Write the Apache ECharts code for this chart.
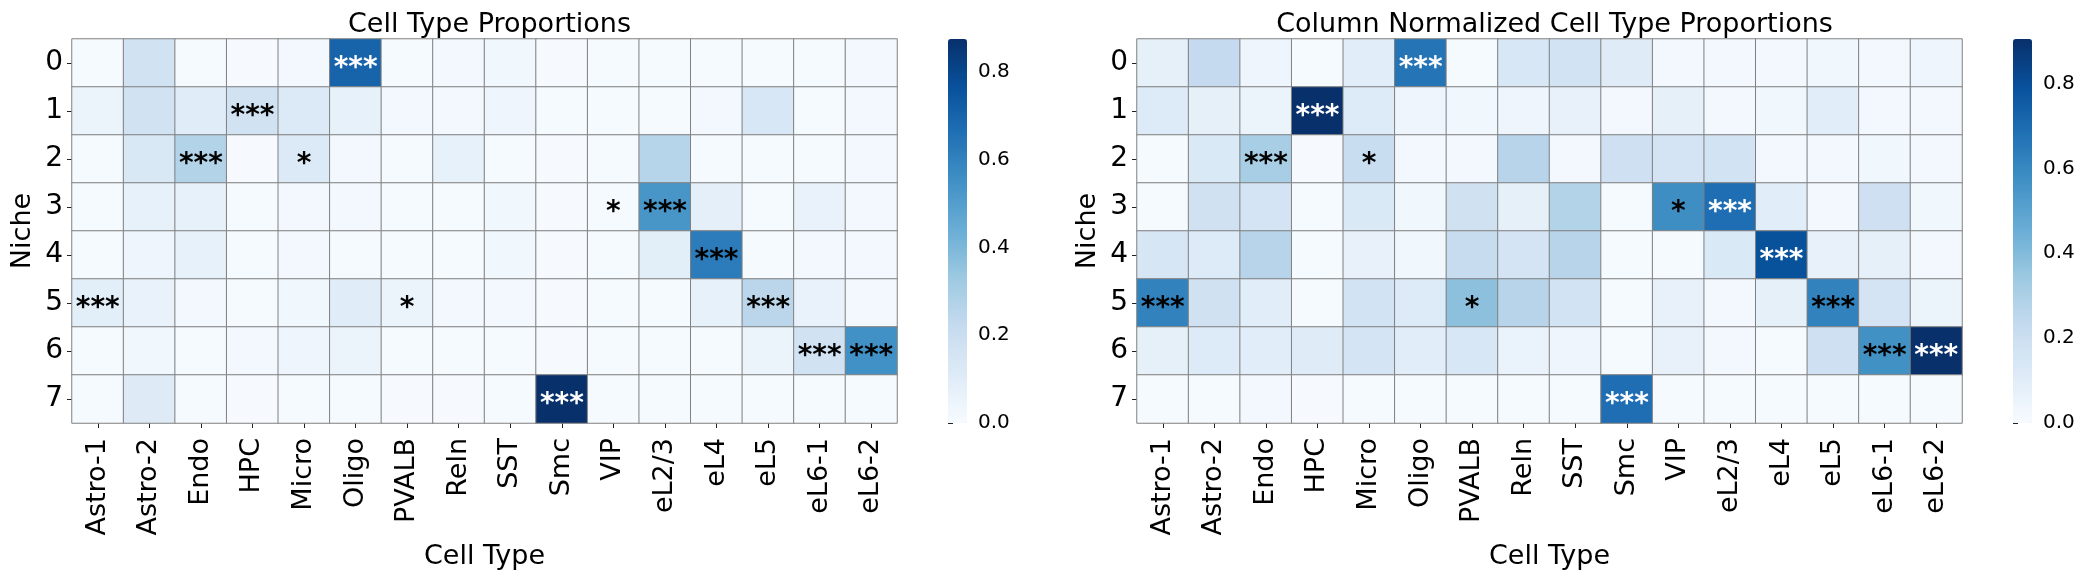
<!DOCTYPE html>
<html>
<head>
<meta charset="utf-8">
<script src="https://cdn.jsdelivr.net/npm/echarts@6/dist/echarts.min.js"></script>
<style>
  html, body { margin: 0; padding: 0; background: #fff; }
  #chart { width: 2087px; height: 577px; }
</style>
</head>
<body>
<div id="chart"></div>
<script>
const cellTypes = ['Astro-1', 'Astro-2', 'Endo', 'HPC', 'Micro', 'Oligo', 'PVALB', 'Reln',
  'SST', 'Smc', 'VIP', 'eL2/3', 'eL4', 'eL5', 'eL6-1', 'eL6-2']
const niches = ['0', '1', '2', '3', '4', '5', '6', '7']

// raw proportions, one row per niche
const propValues = [
  [0.01, 0.17, 0.01, 0.005, 0.02, 0.70, 0.01, 0.02, 0.03, 0.005, 0.01, 0.01, 0.01, 0.01, 0.01, 0.02],
  [0.05, 0.17, 0.10, 0.17, 0.12, 0.07, 0.02, 0.02, 0.04, 0.01, 0.01, 0.01, 0.02, 0.14, 0.01, 0.02],
  [0.01, 0.13, 0.27, 0.005, 0.12, 0.02, 0.01, 0.07, 0.01, 0.005, 0.01, 0.26, 0.01, 0.01, 0.01, 0.02],
  [0.01, 0.07, 0.07, 0.01, 0.02, 0.02, 0.01, 0.01, 0.03, 0.005, 0.01, 0.53, 0.08, 0.01, 0.06, 0.02],
  [0.01, 0.04, 0.07, 0.01, 0.02, 0.01, 0.01, 0.01, 0.03, 0.005, 0.01, 0.09, 0.62, 0.01, 0.02, 0.02],
  [0.09, 0.06, 0.02, 0.01, 0.03, 0.10, 0.05, 0.02, 0.02, 0.005, 0.01, 0.01, 0.07, 0.25, 0.06, 0.02],
  [0.01, 0.03, 0.01, 0.02, 0.04, 0.05, 0.01, 0.01, 0.01, 0.005, 0.01, 0.01, 0.01, 0.05, 0.17, 0.55],
  [0.01, 0.11, 0.01, 0.005, 0.01, 0.01, 0.005, 0.005, 0.01, 0.875, 0.01, 0.01, 0.01, 0.01, 0.01, 0.01]
]

// column normalized proportions
const normValues = [
  [0.08, 0.23, 0.04, 0.01, 0.10, 0.67, 0.01, 0.14, 0.17, 0.11, 0.02, 0.02, 0.02, 0.03, 0.02, 0.04],
  [0.12, 0.08, 0.05, 0.905, 0.12, 0.04, 0.03, 0.04, 0.07, 0.02, 0.08, 0.02, 0.03, 0.10, 0.02, 0.02],
  [0.01, 0.13, 0.31, 0.005, 0.21, 0.02, 0.02, 0.27, 0.02, 0.19, 0.16, 0.17, 0.02, 0.02, 0.03, 0.02],
  [0.01, 0.18, 0.16, 0.01, 0.13, 0.03, 0.18, 0.08, 0.28, 0.01, 0.58, 0.69, 0.10, 0.02, 0.19, 0.03],
  [0.15, 0.12, 0.27, 0.01, 0.07, 0.03, 0.22, 0.16, 0.27, 0.01, 0.01, 0.13, 0.79, 0.07, 0.08, 0.02],
  [0.62, 0.18, 0.10, 0.01, 0.17, 0.12, 0.38, 0.27, 0.17, 0.01, 0.07, 0.02, 0.08, 0.62, 0.16, 0.05],
  [0.08, 0.12, 0.10, 0.11, 0.16, 0.10, 0.14, 0.06, 0.04, 0.01, 0.07, 0.02, 0.01, 0.19, 0.57, 0.905],
  [0.01, 0.01, 0.02, 0.005, 0.01, 0.01, 0.01, 0.01, 0.01, 0.69, 0.01, 0.01, 0.01, 0.01, 0.01, 0.01]
]

// significance stars, same for both panels
const sigLabels = [
  ['', '', '', '', '', '***', '', '', '', '', '', '', '', '', '', ''],
  ['', '', '', '***', '', '', '', '', '', '', '', '', '', '', '', ''],
  ['', '', '***', '', '*', '', '', '', '', '', '', '', '', '', '', ''],
  ['', '', '', '', '', '', '', '', '', '', '*', '***', '', '', '', ''],
  ['', '', '', '', '', '', '', '', '', '', '', '', '***', '', '', ''],
  ['***', '', '', '', '', '', '*', '', '', '', '', '', '', '***', '', ''],
  ['', '', '', '', '', '', '', '', '', '', '', '', '', '', '***', '***'],
  ['', '', '', '', '', '', '', '', '', '***', '', '', '', '', '', '']
]

const cbarTicks = [0, 0.2, 0.4, 0.6, 0.8]

const blues = ['#f7fbff', '#deebf7', '#c6dbef', '#9ecae1', '#6baed6', '#4292c6', '#2171b5', '#08519c', '#08306b']
const FONT = 'DejaVu Sans'

function maxOf(values) {
  return Math.max(...values.map(r => Math.max(...r)))
}

function heatData(values) {
  let vmax = maxOf(values)
  let data = []
  values.forEach((row, r) => {
    row.forEach((v, c) => {
      data.push({
        value: [c, r, v],
        label: { color: v / vmax > 0.72 ? '#ffffff' : '#000000' }
      })
    })
  })
  return data
}

const propMax = maxOf(propValues)
const normMax = maxOf(normValues)

function heatGrid(left) {
  return { left: left, top: 39, width: 825, height: 384 }
}

function catX(gridIndex) {
  return {
    type: 'category',
    gridIndex: gridIndex,
    data: cellTypes,
    axisLine: { show: false },
    axisTick: { show: true, length: 5, alignWithLabel: true, lineStyle: { color: '#222' } },
    axisLabel: { rotate: 90, interval: 0, fontSize: 27, fontFamily: FONT, color: '#000', margin: 15 },
    splitArea: { show: false },
    name: 'Cell Type',
    nameLocation: 'middle',
    nameGap: 114,
    nameTextStyle: { fontSize: 27, fontFamily: FONT, color: '#000' }
  }
}

function catY(gridIndex) {
  return {
    type: 'category',
    gridIndex: gridIndex,
    data: niches,
    inverse: true,
    axisLine: { show: false },
    axisTick: { show: true, length: 5, alignWithLabel: true, lineStyle: { color: '#222' } },
    axisLabel: { fontSize: 28, fontFamily: FONT, color: '#000', margin: 9 },
    splitArea: { show: false },
    name: 'Niche',
    nameLocation: 'middle',
    nameGap: 36,
    nameTextStyle: { fontSize: 27, fontFamily: FONT, color: '#000' }
  }
}

function cbarX(gridIndex) {
  return { type: 'value', gridIndex: gridIndex, show: false, min: 0, max: 1 }
}

function cbarY(gridIndex, vmax) {
  return {
    type: 'value',
    gridIndex: gridIndex,
    min: 0,
    max: vmax,
    position: 'right',
    axisLine: { show: false },
    splitLine: { show: false },
    axisTick: { show: true, length: 5, customValues: cbarTicks, lineStyle: { color: '#222' } },
    axisLabel: {
      customValues: cbarTicks,
      fontSize: 20, fontFamily: FONT, color: '#000', margin: 11,
      formatter: v => v.toFixed(1)
    }
  }
}

function heatSeries(idx, values) {
  return {
    type: 'heatmap',
    xAxisIndex: idx,
    yAxisIndex: idx,
    data: heatData(values),
    itemStyle: { borderColor: '#808080', borderWidth: 1 },
    label: {
      show: true,
      fontSize: 28,
      fontWeight: 'bold',
      fontFamily: FONT,
      offset: [0, 6],
      formatter: p => sigLabels[p.value[1]][p.value[0]]
    },
    emphasis: { disabled: true }
  }
}

let myChart = echarts.init(document.getElementById('chart'), null, { renderer: 'canvas' })
myChart.setOption({
  animation: false,
  backgroundColor: '#ffffff',
  textStyle: { fontFamily: FONT },
  title: [
    {
      text: 'Cell Type Proportions', left: 484.5, top: 6, textAlign: 'center',
      textStyle: { fontSize: 27, fontWeight: 'normal', fontFamily: FONT, color: '#000' }
    },
    {
      text: 'Column Normalized Cell Type Proportions', left: 1549.5, top: 6, textAlign: 'center',
      textStyle: { fontSize: 27, fontWeight: 'normal', fontFamily: FONT, color: '#000' }
    }
  ],
  grid: [heatGrid(72), heatGrid(1137),
    { left: 948, top: 39, width: 19, height: 384 },
    { left: 2013, top: 39, width: 19, height: 384 }],
  xAxis: [catX(0), catX(1), cbarX(2), cbarX(3)],
  yAxis: [catY(0), catY(1), cbarY(2, propMax), cbarY(3, normMax)],
  visualMap: [
    {
      type: 'continuous', seriesIndex: 0, min: 0, max: propMax,
      left: 948, top: 39, itemWidth: 19, itemHeight: 384, padding: 0,
      calculable: false, hoverLink: false, inRange: { color: blues }
    },
    {
      type: 'continuous', seriesIndex: 1, min: 0, max: normMax,
      left: 2013, top: 39, itemWidth: 19, itemHeight: 384, padding: 0,
      calculable: false, hoverLink: false, inRange: { color: blues }
    }
  ],
  series: [
    heatSeries(0, propValues),
    heatSeries(1, normValues),
    { type: 'scatter', xAxisIndex: 2, yAxisIndex: 2, data: [] },
    { type: 'scatter', xAxisIndex: 3, yAxisIndex: 3, data: [] }
  ]
})
</script>
</body>
</html>
